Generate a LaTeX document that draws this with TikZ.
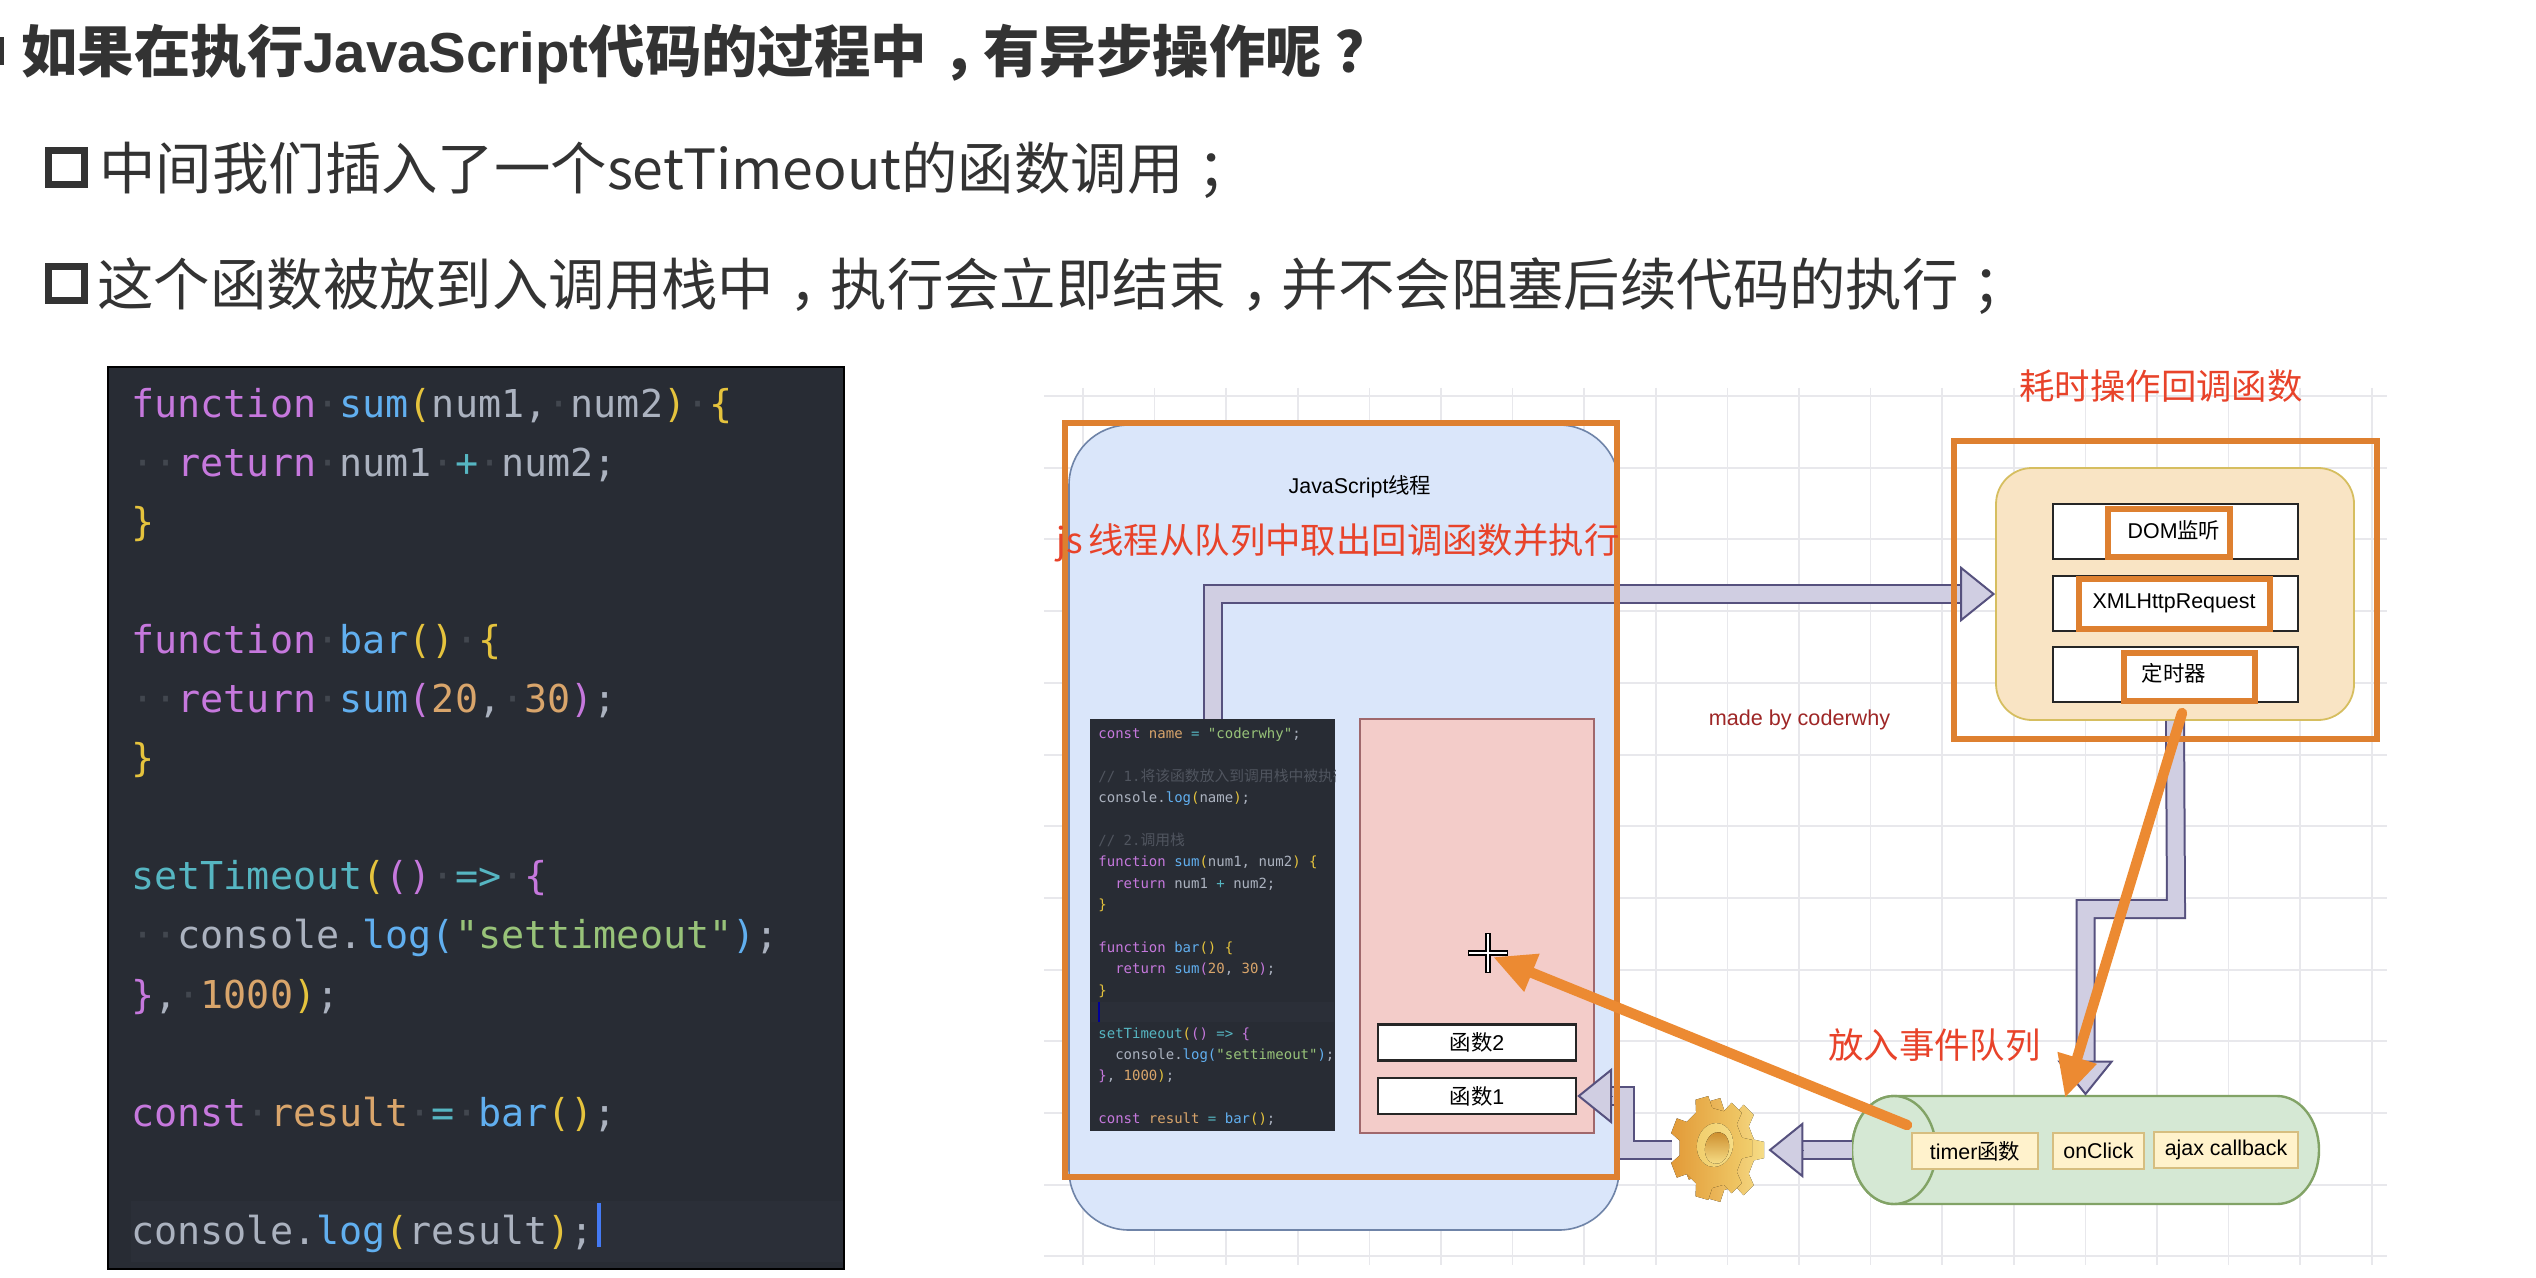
\documentclass[tikz,border=0pt]{standalone}
\usepackage{fontspec}
\setmainfont{Liberation Sans}
\setmonofont{DejaVu Sans Mono}
\newfontfamily\cjk{Noto Sans CJK SC}
\usetikzlibrary{arrows.meta,shapes.geometric,calc}
\definecolor{gridc}{HTML}{E8E8EC}
\definecolor{orangeb}{HTML}{DE8030}
\definecolor{orangea}{HTML}{EC8A32}
\definecolor{redt}{HTML}{E8432A}
\definecolor{pipef}{HTML}{D0CEE2}
\definecolor{pipel}{HTML}{56517E}
\definecolor{bluef}{HTML}{DAE6FA}
\definecolor{bluel}{HTML}{6F84A8}
\definecolor{pinkf}{HTML}{F3CCC9}
\definecolor{pinkl}{HTML}{A0686C}
\definecolor{beigef}{HTML}{F9E4C4}
\definecolor{beigel}{HTML}{D6BE60}
\definecolor{greenf}{HTML}{D5E8D4}
\definecolor{greenl}{HTML}{82A366}
\definecolor{yellowf}{HTML}{FFF2CC}
\definecolor{yellowl}{HTML}{D6BE80}
\definecolor{codebg}{HTML}{282C34}
\definecolor{codehl}{HTML}{2B2F38}
\definecolor{dotc}{HTML}{42474F}
\definecolor{ckw}{HTML}{C678DD}
\definecolor{cfn}{HTML}{61AFEF}
\definecolor{cyl}{HTML}{E5C33D}
\definecolor{cwh}{HTML}{ABB2BF}
\definecolor{cor}{HTML}{D9A56B}
\definecolor{cgr}{HTML}{98C379}
\definecolor{cte}{HTML}{56B6C2}
\definecolor{ccm}{HTML}{50555F}
\definecolor{headc}{HTML}{333333}
\definecolor{gearA}{HTML}{E29A38}
\definecolor{gearB}{HTML}{F1CE6C}
\definecolor{gearC}{HTML}{F6DD86}
\definecolor{gearD}{HTML}{CC8C2C}
\newcommand{\setfs}[1]{\fontsize{#1}{#1}\selectfont}
\newcommand{\qK}[1]{\textcolor{ckw}{#1}}
\newcommand{\qF}[1]{\textcolor{cfn}{#1}}
\newcommand{\qY}[1]{\textcolor{cyl}{#1}}
\newcommand{\qW}[1]{\textcolor{cwh}{#1}}
\newcommand{\qO}[1]{\textcolor{cor}{#1}}
\newcommand{\qG}[1]{\textcolor{cgr}{#1}}
\newcommand{\qT}[1]{\textcolor{cte}{#1}}
\newcommand{\D}{\textcolor{dotc}{·}}
\newcommand{\zc}{\kern.28em，\kern-.28em}
\newcommand{\zs}{\kern.24em；\kern-.24em}
\newcommand{\zq}{\kern.25em？\kern-.25em}
\newcommand{\codeline}[3]{\node[codeln] (#1) at (131,{417+59.1*#2}) {#3};}
\newcommand{\tinyline}[3]{\node[tinyln] (#1) at (1098,{738.5+21.4*#2}) {#3};}
\tikzset{
  headtxt/.style={anchor=base west,inner sep=0,text=headc},
  bulletbox/.style={draw=headc,line width=3.5pt,minimum width=18pt,minimum height=17pt,inner sep=0},
  redtxt/.style={inner sep=0,text=redt,font=\setfs{17.7}\cjk},
  codeln/.style={anchor=base west,inner sep=0,font=\ttfamily\setfs{19.2}},
  tinyln/.style={anchor=base west,inner sep=0,font=\ttfamily\setfs{7}},
  lab/.style={inner sep=0,text=black,font=\setfs{10.7}},
  whitebox/.style={draw=black!85,line width=1.2pt,fill=white,inner sep=0,minimum width=122.5pt,minimum height=27.5pt},
  stackbox/.style={draw=black!85,line width=1.2pt,fill=white,inner sep=0,minimum width=99pt,minimum height=18pt,font=\setfs{10.7}},
  yellowbox/.style={draw=yellowl,line width=1pt,fill=yellowf,inner sep=0,minimum height=18pt,font=\setfs{10.7}},
  orangerect/.style={draw=orangeb,line width=2.8pt,inner sep=0},
  pipeout/.style={draw=pipel,line width=10pt,line join=miter},
  pipein/.style={draw=pipef,line width=8pt,line join=miter},
  pipetip/.style={-{Triangle[length=17.5pt,width=28pt,line width=1pt,fill=pipef,color=pipel]}},
  callout/.style={draw=orangea,line width=5.2pt,line cap=round,-{Triangle[length=21pt,width=19pt,fill=orangea]}},
}
\begin{document}
\begin{tikzpicture}[x=0.5pt,y=-0.5pt]
\useasboundingbox (0,0) rectangle (2536,1278);
\fill[white] (0,0) rectangle (2536,1278);
% heading
\fill[headc] (0,37) rectangle (4,65);
\node[headtxt,font=\setfs{28.2}\cjk\bfseries] (h1) at (21,73) {如果在执行{\rmfamily JavaScript}代码的过程中\zc 有异步操作呢\zq};
\node[bulletbox] (b2) at (66.5,168) {};
\node[headtxt,font=\setfs{28.2}\cjk] (h2) at (99,190) {中间我们插入了一个{\setfs{27.7}setTimeout}的函数调用\zs};
\node[bulletbox] (b3) at (66.5,284) {};
\node[headtxt,font=\setfs{28.2}\cjk] (h3) at (97,306) {这个函数被放到入调用栈中\zc 执行会立即结束\zc 并不会阻塞后续代码的执行\zs};
% big code
\node[fill=codebg,draw=black,line width=.6pt,inner sep=0,minimum width=368pt,minimum height=451pt] (bigcode) at (476,818) {};
\fill[codehl] (131,1201) rectangle (843,1262);
\codeline{l0}{0}{\qK{function}\D\qF{sum}\qY{(}\qW{num1,}\D\qW{num2}\qY{)}\D\qY{\{}}
\codeline{l1}{1}{\D\D\qK{return}\D\qW{num1}\D\qT{+}\D\qW{num2;}}
\codeline{l2}{2}{\qY{\}}}
\codeline{l4}{4}{\qK{function}\D\qF{bar}\qY{()}\D\qY{\{}}
\codeline{l5}{5}{\D\D\qK{return}\D\qF{sum}\qK{(}\qO{20}\qW{,}\D\qO{30}\qK{)}\qW{;}}
\codeline{l6}{6}{\qY{\}}}
\codeline{l8}{8}{\qT{setTimeout}\qY{(}\qK{()}\D\qT{=>}\D\qK{\{}}
\codeline{l9}{9}{\D\D\qW{console.}\qF{log}\qF{(}\qG{"settimeout"}\qF{)}\qW{;}}
\codeline{l10}{10}{\qK{\}}\qW{,}\D\qO{1000}\qY{)}\qW{;}}
\codeline{l12}{12}{\qK{const}\D\qO{result}\D\qT{=}\D\qF{bar}\qY{()}\qW{;}}
\codeline{l14}{14}{\qW{console.}\qF{log}\qY{(}\qW{result}\qY{)}\qW{;}}
\fill[cfn!70!blue] (597,1203) rectangle (601,1247);
% grid
\foreach \k in {0,...,12} \draw[gridc,line width=1pt] (1044,{396+71.7*\k}) -- (2387,{396+71.7*\k});
\foreach \k in {0,...,18} \draw[gridc,line width=.8pt] ({1083+71.6*\k},388) -- ({1083+71.6*\k},1265);
% JS thread
\node[fill=bluef,draw=bluel,line width=.8pt,rounded corners=30pt,inner sep=0,minimum width=275pt,minimum height=402.5pt] (thread) at (1344,827.5) {};
\node[inner sep=0,font=\setfs{10.7}] (threadlab) at (1360,487) {JavaScript{\cjk 线程}};
\node[fill=codebg,inner sep=0,minimum width=122.5pt,minimum height=206pt] (tiny) at (1212.5,925) {};
\fill[codehl] (1091,1002) rectangle (1334,1022);
\fill[blue!60!black] (1098,1002) rectangle (1100,1022);
\tinyline{t0}{0}{\qK{const} \qO{name} \qT{=} \qG{"coderwhy"}\qW{;}}
\begin{scope}
\clip (1091,720) rectangle (1335,1130);
\tinyline{t2}{2}{\textcolor{ccm}{// 1.{\cjk\setfs{7.4}将该函数放入到调用栈中被执行}}}
\end{scope}
\tinyline{t3}{3}{\qW{console.}\qF{log}\qY{(}\qW{name}\qY{)}\qW{;}}
\tinyline{t5}{5}{\textcolor{ccm}{// 2.{\cjk\setfs{7.4}调用栈}}}
\tinyline{t6}{6}{\qK{function} \qF{sum}\qY{(}\qW{num1,} \qW{num2}\qY{)} \qY{\{}}
\tinyline{t7}{7}{~~\qK{return} \qW{num1} \qT{+} \qW{num2;}}
\tinyline{t8}{8}{\qY{\}}}
\tinyline{t10}{10}{\qK{function} \qF{bar}\qY{()} \qY{\{}}
\tinyline{t11}{11}{~~\qK{return} \qF{sum}\qK{(}\qO{20}\qW{,} \qO{30}\qK{)}\qW{;}}
\tinyline{t12}{12}{\qY{\}}}
\tinyline{t14}{14}{\qT{setTimeout}\qY{(}\qK{()} \qT{=>} \qK{\{}}
\tinyline{t15}{15}{~~\qW{console.}\qF{log}\qF{(}\qG{"settimeout"}\qF{)}\qW{;}}
\tinyline{t16}{16}{\qK{\}}\qW{,} \qO{1000}\qY{)}\qW{;}}
\tinyline{t18}{18}{\qK{const} \qO{result} \qT{=} \qF{bar}\qY{()}\qW{;}}
\node[fill=pinkf,draw=pinkl,line width=.8pt,inner sep=0,minimum width=117pt,minimum height=207pt] (stack) at (1477,926) {};
\node[stackbox] (s2) at (1477,1042.5) {{\cjk 函数}2};
\node[stackbox] (s1) at (1477,1096) {{\cjk 函数}1};
% web api box
\node[fill=beigef,draw=beigel,line width=.9pt,rounded corners=18pt,inner sep=0,minimum width=179pt,minimum height=126pt] (apis) at (2175,594) {};
\node[whitebox] (w1) at (2175.5,531.5) {};
\node[whitebox] (w2) at (2175.5,603.5) {};
\node[whitebox] (w3) at (2175.5,674.5) {};
% queue
\node[inner sep=0,minimum width=233.5pt,minimum height=54pt] (queue) at (2085.5,1150) {};
\draw[greenl,line width=1.2pt,fill=greenf] (1894,1096) -- (2277,1096) arc[start angle=90,end angle=-90,x radius=21pt,y radius=27pt] -- (1894,1204) arc[start angle=270,end angle=90,x radius=21pt,y radius=27pt] -- cycle;
\draw[greenl,line width=1.2pt,fill=greenf] (1894,1150) ellipse[x radius=21pt,y radius=27pt];
\node[yellowbox,minimum width=63pt] (qa) at (1975,1151) {timer{\cjk 函数}};
\node[yellowbox,minimum width=45.5pt] (qb) at (2098.5,1151) {onClick};
\node[yellowbox,minimum width=72pt] (qc) at (2226,1149.5) {ajax callback};
% gear
\node[inner sep=0,minimum width=48pt,minimum height=54pt] (gear) at (1720,1150) {};
\begin{scope}[shift={(1723,1150)},xscale=.8]
\fill[left color=gearA,right color=gearC]
  (-18:40) \foreach \a in {0,51.43,...,308.6} { -- ({\a-15}:40) -- ({\a-9}:52) -- ({\a+9}:52) -- ({\a+15}:40) -- ({\a+36.4}:40) } -- cycle;
\end{scope}
\begin{scope}[shift={(1711,1148)},xscale=.8]
\fill[left color=gearA,right color=gearB]
  (-18:40) \foreach \a in {0,51.43,...,308.6} { -- ({\a-15}:40) -- ({\a-9}:52) -- ({\a+9}:52) -- ({\a+15}:40) -- ({\a+36.4}:40) } -- cycle;
\end{scope}
\fill[left color=gearB,right color=gearC,rotate around={-10:(1715,1145)}] (1715,1145) ellipse[x radius=9pt,y radius=11pt];
\fill[top color=gearD,bottom color=gearC,rotate around={-10:(1717,1148)}] (1717,1148) ellipse[x radius=6pt,y radius=8pt];
% pipes
\coordinate (jog1) at (1625,1150);
\coordinate (jog2) at (1625,1096);
\coordinate (jog3) at (2176,909);
\draw[pipeout] (tiny.north) |- ($(apis.west)+(-34,0)$);
\draw[pipein] (tiny.north) |- ($(apis.west)+(-34,0)$);
\path[pipetip,draw=pipel,line width=.1pt] ($(apis.west)+(-35,0)$) -- (apis.west);
\draw[pipeout] (apis.south) -- (jog3) -| ($(queue.north)+(0,-34)$);
\draw[pipein] (apis.south) -- (jog3) -| ($(queue.north)+(0,-34)$);
\path[pipetip,draw=pipel,line width=.1pt] ($(queue.north)+(0,-35)$) -- (queue.north);
\draw[pipeout] (queue.west) -- ($(gear.east)+(34,0)$);
\draw[pipein] (queue.west) -- ($(gear.east)+(34,0)$);
\path[pipetip,draw=pipel,line width=.1pt] ($(gear.east)+(35,0)$) -- (gear.east);
\draw[pipeout] (gear.west) -- (jog1) -- (jog2) -- ($(s1.east)+(34,0)$);
\draw[pipein] (gear.west) -- (jog1) -- (jog2) -- ($(s1.east)+(34,0)$);
\path[pipetip,draw=pipel,line width=.1pt] ($(s1.east)+(35,0)$) -- (s1.east);
% labels of the api box
\node[orangerect,minimum width=61pt,minimum height=24pt] (o1) at (2169,533) {};
\node[orangerect,minimum width=95.5pt,minimum height=25pt] (o2) at (2174.5,604) {};
\node[orangerect,minimum width=65.5pt,minimum height=24pt] (o3) at (2189.5,677) {};
\node[lab] (dom) at (2174,530) {DOM{\cjk 监听}};
\node[lab] (xhr) at (2174,603) {XMLHttpRequest};
\node[lab] (tmr) at (2174,673) {\cjk 定时器};
\node[inner sep=0,text=red!55!black!85!white,font=\setfs{10.8}] (made) at (1799.5,720) {made by coderwhy};
% annotations
\node[orangerect,minimum width=276pt,minimum height=377pt] (frameA) at (1341,800) {};
\node[orangerect,minimum width=211.5pt,minimum height=149pt] (frameB) at (2165.5,590) {};
\node[redtxt,anchor=east] (ra) at (1620,543) {js\,线程从队列中取出回调函数并执行};
\node[redtxt] (rb) at (2161,386) {耗时操作回调函数};
\node[redtxt] (rc) at (1934.5,1045) {放入事件队列};
% call-out arrows
\coordinate (cursor) at (1488,953);
\coordinate (tipA) at (1493,957);
\coordinate (startA) at (1907,1125);
\coordinate (startB) at (2182,713);
\coordinate (tipB) at (2065,1098);
\draw[callout] (startA) -- (tipA);
\draw[callout] (startB) -- (tipB);
\draw[black,line width=2.6pt] ($(cursor)+(-20,0)$) -- ($(cursor)+(20,0)$);
\draw[black,line width=2.6pt] ($(cursor)+(0,-20)$) -- ($(cursor)+(0,20)$);
\draw[white,line width=1.2pt] ($(cursor)+(-19,0)$) -- ($(cursor)+(19,0)$);
\draw[white,line width=1.2pt] ($(cursor)+(0,-19)$) -- ($(cursor)+(0,19)$);
\end{tikzpicture}
\end{document}
